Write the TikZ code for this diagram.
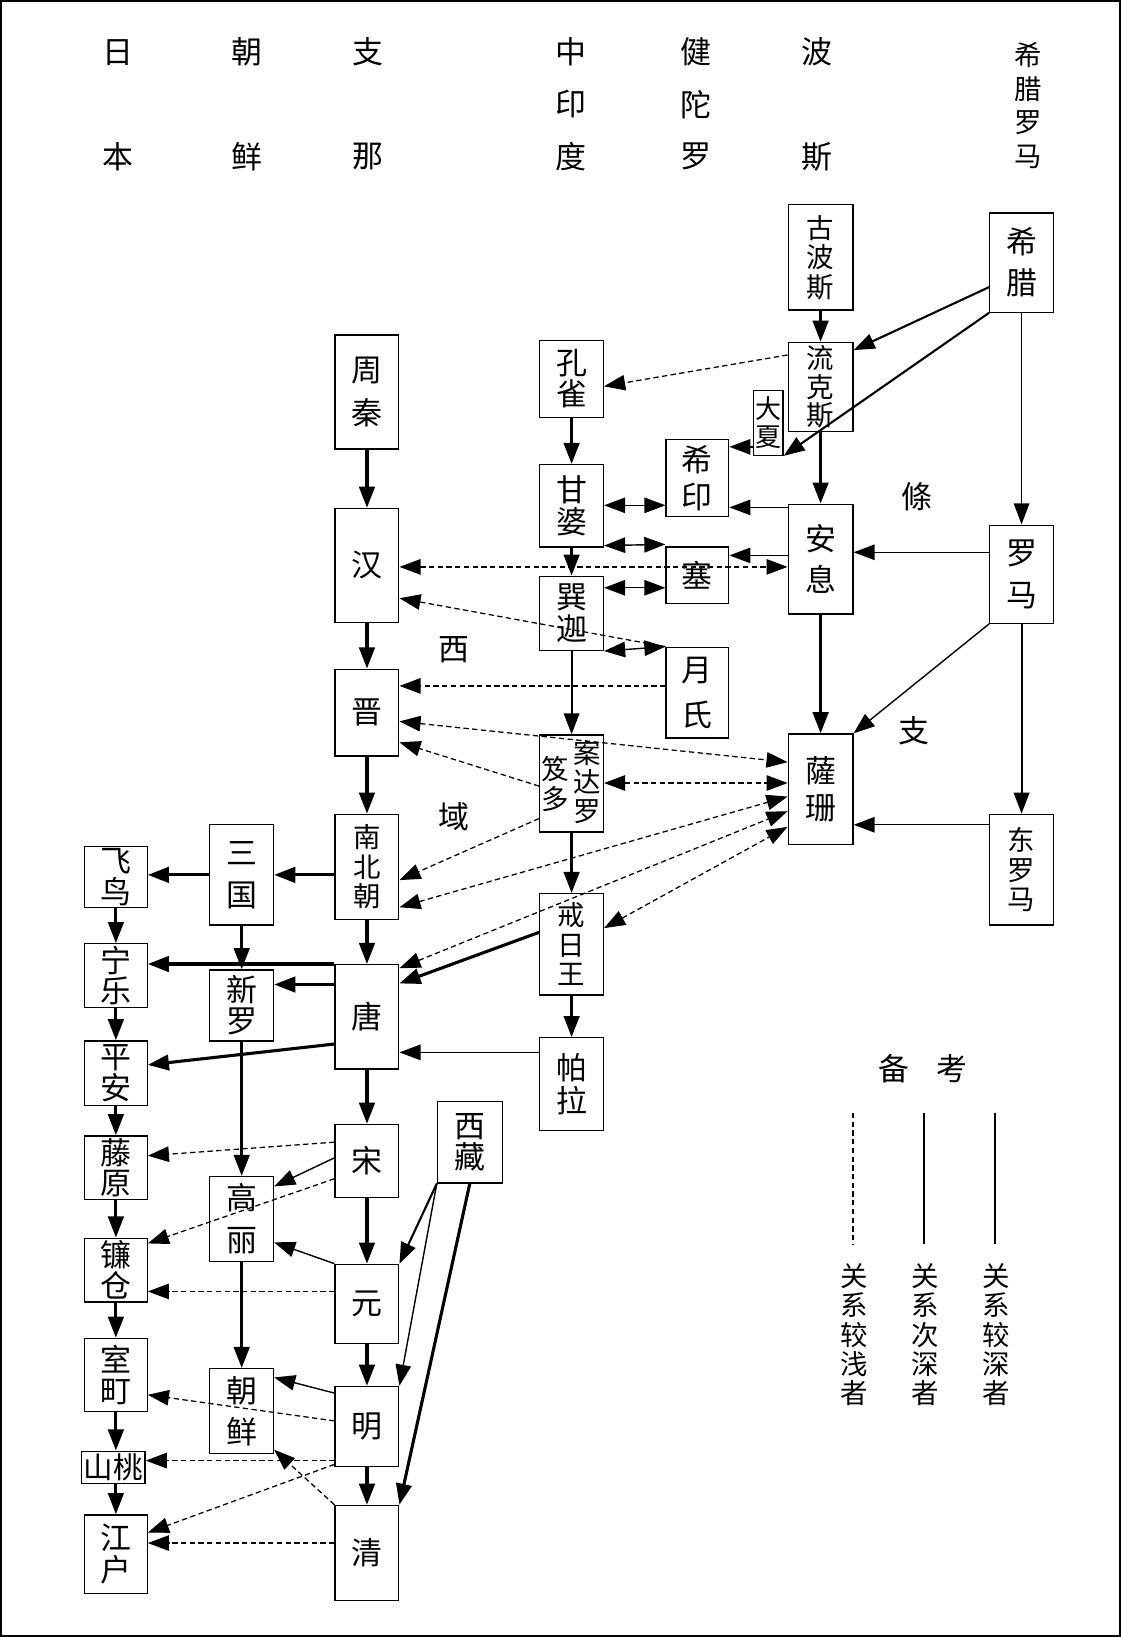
\documentclass[tikz,border=0pt]{standalone}
\usepackage{fontspec}
\setmainfont{Noto Sans CJK SC}
\usetikzlibrary{arrows.meta,calc}
\newcommand{\pu}{0.74245pt}
\newcommand{\tightlines}{\lineskiplimit=-30pt\relax}
\tikzset{
  box/.style 2 args={draw, line width=0.9pt, minimum width=#1*\pu, minimum height=#2*\pu, inner sep=0pt, align=center},
  vt/.style={align=center, font={\fontsize{22}{#1}\selectfont\tightlines}},
  vs/.style={align=center, font={\fontsize{19.5}{#1}\selectfont\tightlines}},
  deep/.style={->, line width=2.2pt},
  second/.style={->, line width=1pt},
  shallow/.style={->, line width=0.9pt, dash pattern=on 3.8pt off 2.4pt},
}

\begin{document}
\begin{tikzpicture}[x=0.026094cm, y=-0.026094cm, >={Triangle[length=15pt,width=11pt]},
  every node/.style={font=\fontsize{22}{23}\selectfont}]
\useasboundingbox (0,0) rectangle (1074,1568);
\draw[line width=1.2pt] (1,1) rectangle (1073,1567);

% column heads
\foreach \x/\a/\b [count=\i] in {113/日/本, 237/朝/鲜, 352/支/那, 547/中/度, 667/健/罗, 783/波/斯} {
  \node (hd\i a) at (\x,50) {\a};
  \node (hd\i b) at (\x,150) {\b};
}
\node (hd4m) at (547,100) {印};
\node (hd5m) at (667,100) {陀};
\node[vs=24] (hd7) at (985,101) {希\\腊\\罗\\马};

% west
\node[box={62}{101}, vs=21] (gubosi) at (786,246.5) {古\\波\\斯};
\node[box={61}{95}, vt=29] (xila) at (978.5,251.5) {希\\腊};
\node[box={62}{85}, vs=20.5] (liukesi) at (786,370.5) {流\\克\\斯};
\node[box={28}{62}, align=center, font={\fontsize{18.5}{20}\selectfont\tightlines}] (daxia) at (736,405) {大\\夏};
\node[box={62}{105}, vt=29] (anxi) at (786,535.5) {安\\息};
\node[box={61}{94}, vt=29.7] (luoma) at (978.5,550) {罗\\马};
\node[box={62}{106}, vt=26] (sashan) at (786,756) {薩\\珊};
\node[box={61}{106}, vs=21] (dongluoma) at (978.5,833) {东\\罗\\马};

% india
\node[box={61}{74}, vt=22] (kongque) at (547.5,363) {孔\\雀};
\node[box={60}{74}, vt=26] (xiyin) at (668,458) {希\\印};
\node[box={61}{79}, vt=23] (ganpo) at (547.5,484.5) {甘\\婆};
\node[box={60}{54}] (sai) at (668,551) {塞};
\node[box={61}{71}, vt=23] (xunjia) at (547.5,587.5) {巽\\迦};
\node[box={60}{87}, vt=32] (yuezhi) at (668,663.5) {月\\氏};
\node[box={61}{93}] (andaluo) at (547.5,750.5) {};
\node[vs=20.5] (andaluor) at (562,749) {案\\达\\罗};
\node[vs=21.5] (andaluol) at (532,751) {笈\\多};
\node[box={61}{97}, vs=21] (jieri) at (547.5,904.5) {戒\\日\\王};
\node[box={61}{89}, vt=23.5] (pala) at (547.5,1038.5) {帕\\拉};

% china
\node[box={61}{109}, vt=31.2] (zhouqin) at (351.5,375.5) {周\\秦};
\node[box={61}{109}] (han) at (351.5,541.5) {汉};
\node[box={61}{83}] (jin) at (351.5,682.5) {晋};
\node[box={61}{101}, vs=21] (nanbeichao) at (351.5,830.5) {南\\北\\朝};
\node[box={61}{100}] (tang) at (351.5,974) {唐};
\node[box={61}{70}] (song) at (351.5,1112) {宋};
\node[box={62}{78}, vt=22] (xizang) at (450,1094) {西\\藏};
\node[box={61}{76}] (yuan) at (351.5,1249) {元};
\node[box={61}{77}] (ming) at (351.5,1366.5) {明};
\node[box={61}{91}] (qing) at (351.5,1487.5) {清};

% korea
\node[box={61}{96}, vt=29.7] (sanguo) at (231.5,838) {三\\国};
\node[box={61}{68}, vt=22] (xinluo) at (231.5,963) {新\\罗};
\node[box={61}{81}, vt=29.7] (gaoli) at (231.5,1167.5) {高\\丽};
\node[box={61}{81}, vt=29] (chaoxian) at (231.5,1351.5) {朝\\鲜};

% japan
\node[box={60}{58}, vt=22] (feiniao) at (111,840) {飞\\鸟};
\node[box={60}{61}, vt=22] (ningle) at (111,934.5) {宁\\乐};
\node[box={60}{62}, vt=22] (pingan) at (111,1028) {平\\安};
\node[box={60}{61}, vt=22] (tengyuan) at (111,1118.5) {藤\\原};
\node[box={60}{61}, vt=22] (liancang) at (111,1216.5) {镰\\仓};
\node[box={60}{70}, vt=22] (shiting) at (111,1317) {室\\町};
\node[box={61}{31}, font=\fontsize{21}{22}\selectfont] (shantao) at (108.5,1405.5) {山桃};
\node[box={60}{75}, vt=22.5] (jianghu) at (111,1488.5) {江\\户};

\node (tiao) at (878,476) {條};
\node (xi) at (435,622) {西};
\node (zhi) at (875,700) {支};
\node (yu) at (435,782) {域};

% deep
\draw[deep] (gubosi) -- (liukesi);
\draw[deep] (liukesi) -- (anxi);
\draw[deep] (anxi) -- (sashan);
\draw[deep, line width=1.5pt] (xila.west |- 0,275) -- ($(liukesi.north east)+(0,8)$);
\draw[deep, line width=1.5pt] (xila.south west) -- (daxia.south east);
\draw[deep, line width=1.5pt] (luoma) -- (dongluoma);
\draw[deep] (kongque) -- (ganpo);
\draw[deep] (ganpo) -- (xunjia);
\draw[deep, line width=1.5pt] (xunjia) -- (andaluo);
\draw[deep] (andaluo) -- (jieri);
\draw[deep] (jieri) -- (pala);
\draw[deep] (zhouqin) -- (han);
\draw[deep] (han) -- (jin);
\draw[deep] (jin) -- (nanbeichao);
\draw[deep] (nanbeichao) -- (tang);
\draw[deep] (nanbeichao.west |- sanguo.east) -- (sanguo.east);
\draw[deep] (sanguo.west) -- (feiniao.east |- sanguo.west);
\draw[deep] (feiniao) -- (ningle);
\draw[deep] (sanguo) -- (xinluo);
\draw[deep] (tang.north west) -- (ningle.east |- tang.north);
\draw[deep] (tang.west |- 0,943) -- (xinluo.east |- 0,943);
\draw[deep] (tang.west |- 0,1000) -- (pingan.east |- 0,1020);
\draw[deep] (jieri.west |- 0,893) -- (tang.east |- 0,942);
\draw[deep] (ningle) -- (pingan);
\draw[deep] (pingan) -- (tengyuan);
\draw[deep] (tengyuan) -- (liancang);
\draw[deep] (liancang) -- (shiting);
\draw[deep] (shiting.south) -- (shiting.south |- shantao.north);
\draw[deep] (shiting.south |- shantao.south) -- (jianghu);
\draw[deep] (tang) -- (song);
\draw[deep] (song) -- (yuan);
\draw[deep] (yuan) -- (ming);
\draw[deep] (ming) -- (qing);
\draw[deep] (xinluo) -- (gaoli);
\draw[deep] (gaoli) -- (chaoxian);
\draw[deep] (xizang.south) -- (qing.north east);
\draw[deep, line width=1.5pt] (xizang.south west) -- (yuan.north east);

% second
\draw[second] (xila) -- (luoma);
\draw[second] (daxia.west |- 0,428) -- (xiyin.east |- 0,428);
\draw[second] (anxi.west |- 0,486) -- (xiyin.east |- 0,486);
\draw[second] (anxi.west |- 0,532) -- (sai.east |- 0,532);
\draw[second] (luoma.west |- 0,529) -- (anxi.east |- 0,529);
\draw[second, <->] (ganpo.east |- 0,484) -- (xiyin.west |- 0,484);
\draw[second, <->] ($(ganpo.south east)+(0,-2)$) -- ($(sai.north west)+(0,-2)$);
\draw[second, <->] (xunjia.east |- 0,563) -- (sai.west |- 0,563);
\draw[second, <->] (xunjia.south east) -- (yuezhi.north west);
\draw[second] (luoma.south west) -- (sashan.north east);
\draw[second] (dongluoma.west |- 0,790) -- (sashan.east |- 0,790);
\draw[second] (pala.west |- 0,1008) -- (tang.east |- 0,1008);
\draw[second] (song.west |- 0,1109) -- ($(gaoli.north east)+(0,10)$);
\draw[second] (yuan.north west) -- (gaoli.east |- 0,1190);
\draw[second] ($(ming.north west)+(0,7)$) -- ($(chaoxian.north east)+(0,9)$);
\draw[second] (xizang.south west) -- (ming.north east);

% shallow
\draw[shallow] (liukesi.west |- 0,340) -- (kongque.east |- 0,370);
\draw[shallow, <->] (han.east |- 0,543) -- (anxi.west |- 0,543);
\draw[shallow] (yuezhi.north west) -- (han.east |- 0,573);
\draw[shallow] (yuezhi.west |- 0,657) -- (jin.east |- 0,657);
\draw[shallow, <->] (jin.east |- 0,691) -- (sashan.west |- 0,730);
\draw[shallow] (andaluo.west |- 0,753) -- (jin.east |- 0,711);
\draw[shallow, <->] (andaluo.east |- 0,750) -- (sashan.west |- 0,750);
\draw[shallow] (andaluo.west |- 0,784) -- (nanbeichao.east |- 0,843);
\draw[shallow, <->] (nanbeichao.east |- 0,869) -- (sashan.west |- 0,763);
\draw[shallow, <->] ($(tang.north east)+(0,4)$) -- (sashan.west |- 0,777);
\draw[shallow, <->] (jieri.east |- 0,889) -- (sashan.west |- 0,792);
\draw[shallow] (song.west |- 0,1094) -- (tengyuan.east |- 0,1107);
\draw[shallow] (song.west |- 0,1129) -- (liancang.east |- 0,1191);
\draw[shallow] (yuan.west |- 0,1237) -- (liancang.east |- 0,1237);
\draw[shallow] (ming.west |- 0,1361) -- (shiting.east |- 0,1336);
\draw[shallow] (ming.west |- 0,1399) -- (shantao.east |- 0,1399);
\draw[shallow] ($(ming.south west)+(0,-3)$) -- (jianghu.east |- 0,1468);
\draw[shallow] (qing.north west) -- ($(chaoxian.south east)+(0,-4)$);
\draw[shallow] (qing.west |- 0,1478) -- (jianghu.east |- 0,1478);

% legend
\node (bei) at (856,1024) {备};
\node (kao) at (912,1024) {考};
\foreach \x/\s/\t [count=\i] in {817/shallow/浅, 885/second/次, 953/second/较} {
  \coordinate (lg\i a) at (\x,1066);
  \coordinate (lg\i b) at (\x,1192);
  \draw[\s, -] (lg\i a) -- (lg\i b);
}
\node[vs=20.8] (lg1t) at (818,1278.5) {关\\系\\较\\浅\\者};
\node[vs=20.8] (lg2t) at (886,1278.5) {关\\系\\次\\深\\者};
\node[vs=20.8] (lg3t) at (954,1278.5) {关\\系\\较\\深\\者};
\end{tikzpicture}
\end{document}
